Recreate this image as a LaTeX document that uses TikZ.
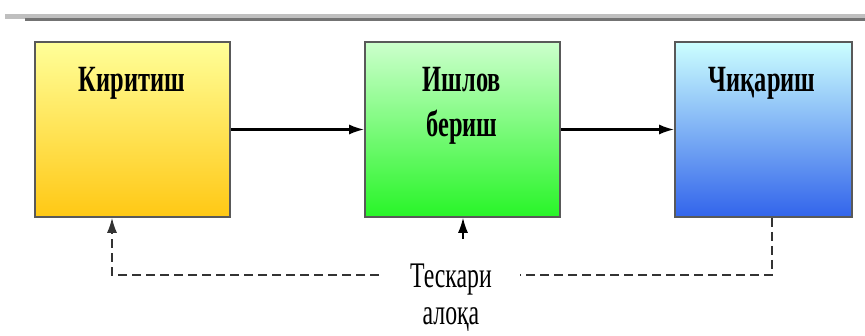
\documentclass[tikz,border=0pt]{standalone}
\usepackage{fontspec}
\setmainfont{Liberation Serif}
\newfontfamily\narrowfont{Liberation Serif}[FakeStretch=0.66]
\usetikzlibrary{arrows.meta}
\tikzset{
    block/.style={draw=black!65, line width=1.6pt, minimum width=195pt, minimum height=175pt, inner sep=0pt},
    blocktext/.style={font={\narrowfont\bfseries\fontsize{37}{45}\selectfont}, align=center, anchor=base, inner sep=0pt},
    fbtext/.style={font={\narrowfont\fontsize{36}{37}\selectfont}, align=center, anchor=base, inner sep=0pt},
    fbline/.style={line width=1.6pt, black!80, dash pattern=on 9pt off 5pt}
}
\begin{document}
\begin{tikzpicture}[x=1pt,y=-1pt,>={Latex[length=15pt,width=10pt]}]
    \useasboundingbox (0,0) rectangle (865,336);
    % top rule
    \draw[line width=5pt, black!25] (5,17) -- (865,17);
    \draw[line width=3pt, black!55] (25,20) -- (865,20);
    % blocks
    \node[block, top color=yellow!40, bottom color={rgb,255:red,255;green,200;blue,20}] (in) at (132.5,129.5) {};
    \node[block, top color=green!20, bottom color={rgb,255:red,40;green,245;blue,40}] (proc) at (462.5,129.5) {};
    \node[block, minimum width=177pt, top color=cyan!20, bottom color={rgb,255:red,50;green,100;blue,235}] (out) at (763.5,129.5) {};
    \node[blocktext] (intext) at (132,92) {Киритиш};
    \node[blocktext] (proctext) at (462,137) {Ишлов\\бериш};
    \node[blocktext] (outtext) at (762,92) {Чиқариш};
    % main flow
    \draw[->, line width=2.2pt] (in) -- (proc);
    \draw[->, line width=2.2pt] (proc) -- (out);
    % feedback
    \node[fbtext] (fb) at (451,325) {Тескари\\алоқа};
    \coordinate (fbr) at (520,275);
    \coordinate (fbl) at (379,275);
    \coordinate (fbtop) at (463,239);
    \draw[fbline] (out.south -| 772,0) |- (fbr);
    \draw[fbline,->] (fbl) -| (in.south -| 112,0);
    \draw[->, line width=1.6pt] (fbtop) -- (proc.south -| fbtop);
\end{tikzpicture}
\end{document}
